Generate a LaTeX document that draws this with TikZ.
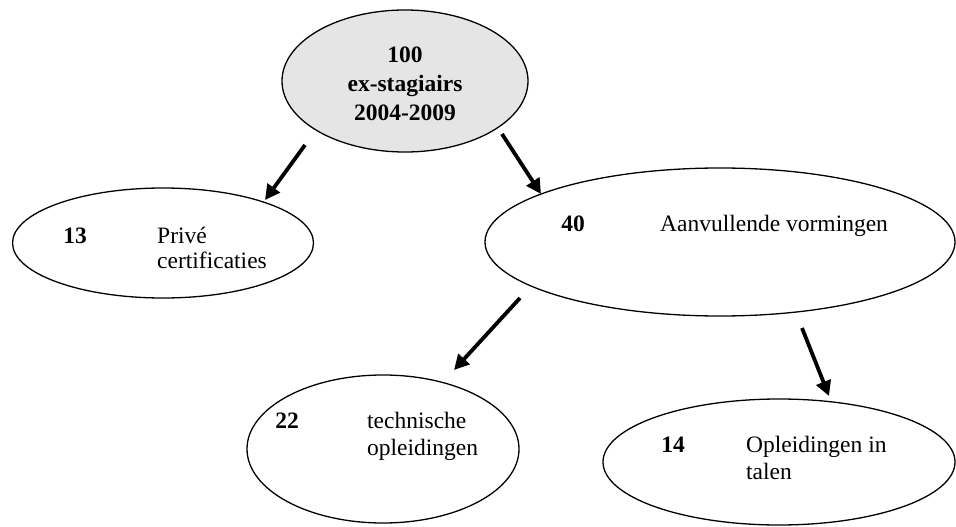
\documentclass[tikz,border=0pt]{standalone}
\usepackage{fontspec}
\setmainfont{Liberation Serif}
\usetikzlibrary{shapes.geometric,arrows.meta}
\begin{document}
\begin{tikzpicture}[x=1pt,y=-1pt,
  oval/.style={draw=black,line width=1.3pt,ellipse,inner sep=0pt},
  num/.style={font=\fontsize{23.5}{28}\selectfont\bfseries,inner sep=0pt,anchor=base},
  lbl/.style={font=\fontsize{23.5}{28}\selectfont,inner sep=0pt,anchor=base west},
  arr/.style={line width=3.8pt,-{Triangle[length=15pt,width=15pt]}}]
\useasboundingbox (0,0) rectangle (956,527);
% ellipses
\node[oval,fill=gray!20,minimum width=246pt,minimum height=142pt] (top) at (405,81) {};
\node[oval,minimum width=301pt,minimum height=110pt] (prive) at (163,243) {};
\node[oval,minimum width=470pt,minimum height=148pt] (aanv) at (720,242) {};
\node[oval,minimum width=272pt,minimum height=148pt] (tech) at (383,449) {};
\node[oval,minimum width=352pt,minimum height=126pt] (talen) at (779,462) {};
% top texts
\node[num] (l100) at (405,63) {100};
\node[num] (lex) at (405,92) {ex-stagiairs};
\node[num] (lyr) at (405,120) {2004-2009};
% labels
\node[num] (n13) at (75,243) {13};
\node[lbl] (t13a) at (157,243) {Privé};
\node[lbl] (t13b) at (157,268) {certificaties};
\node[num] (n40) at (573,231) {40};
\node[lbl] (t40) at (660,231) {Aanvullende vormingen};
\node[num] (n22) at (287,428) {22};
\node[lbl] (t22a) at (367,428) {technische};
\node[lbl] (t22b) at (367,455) {opleidingen};
\node[num] (n14) at (673,452) {14};
\node[lbl] (t14a) at (746,452) {Opleidingen in};
\node[lbl] (t14b) at (746,479) {talen};
% arrows
\coordinate (a1s) at (305,145); \coordinate (a1e) at (265,200);
\coordinate (a2s) at (502,134); \coordinate (a2e) at (541,194);
\coordinate (a3s) at (520,298); \coordinate (a3e) at (454,370);
\coordinate (a4s) at (802,328); \coordinate (a4e) at (829,396);
\draw[arr] (a1s) -- (a1e);
\draw[arr] (a2s) -- (a2e);
\draw[arr] (a3s) -- (a3e);
\draw[arr] (a4s) -- (a4e);
\end{tikzpicture}
\end{document}
